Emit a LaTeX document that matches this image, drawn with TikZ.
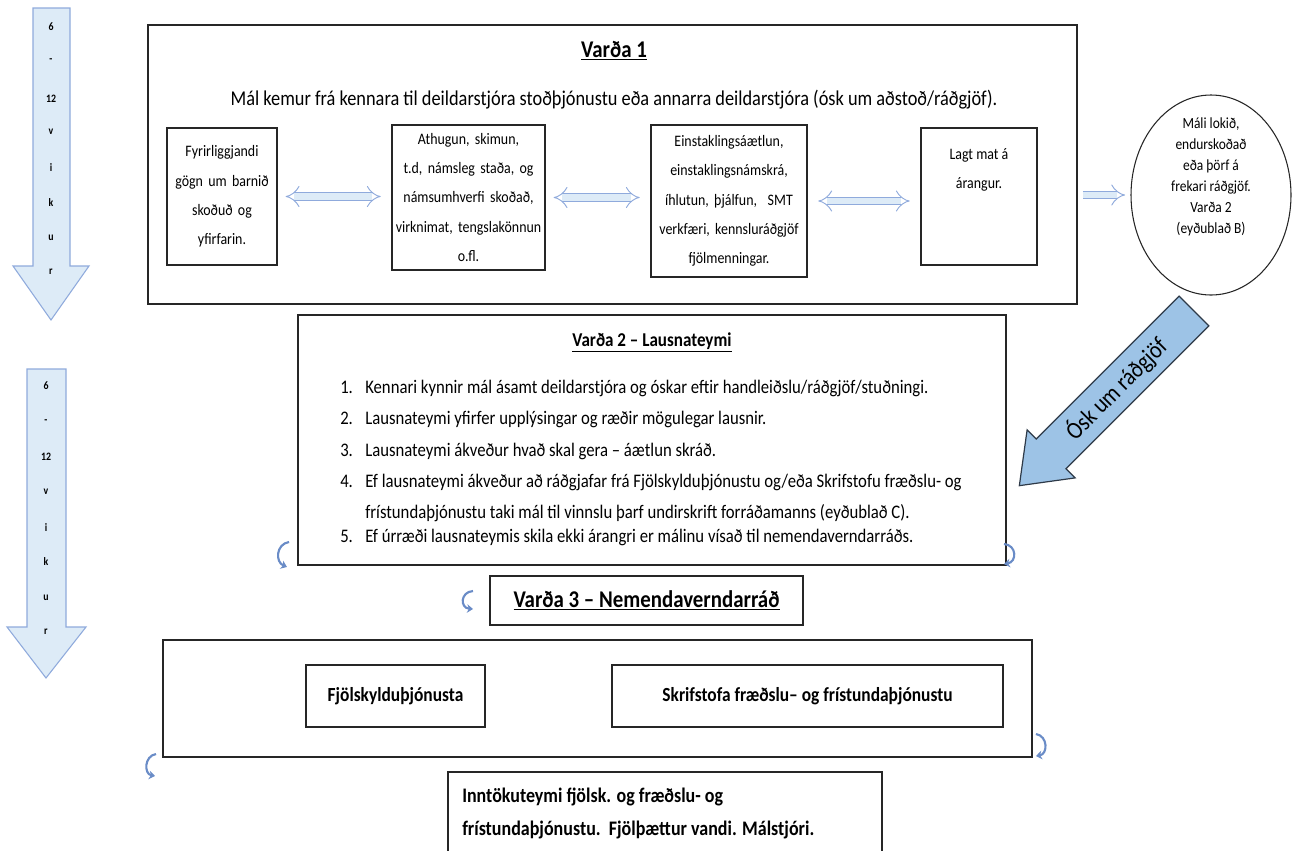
\documentclass[tikz,border=0pt]{standalone}
\usepackage{fontspec}
\setmainfont{Carlito}[FakeStretch=0.87]
\usetikzlibrary{shapes.geometric,arrows.meta,calc}
\definecolor{arrowfill}{HTML}{DDEBF7}
\definecolor{arrowline}{HTML}{8FAADC}
\definecolor{oskfill}{HTML}{9DC3E6}
\definecolor{oskline}{HTML}{2E3A48}
\definecolor{curlblue}{HTML}{6A8CC7}
\definecolor{boxline}{HTML}{262626}
\newcommand{\listno}[1]{\makebox[18.75pt][l]{#1}}

\begin{document}
\begin{tikzpicture}[x=0.75pt, y=-0.75pt,
    box/.style={draw=boxline, line width=0.9pt, inner sep=0pt},
    txt/.style={font=\fontsize{12}{22}\selectfont, align=center},
    head/.style={font=\fontsize{14.7}{17}\selectfont\bfseries},
    fat/.style={draw=arrowline, line width=0.7pt, double=arrowfill, double distance=5pt},
    curl/.style={draw=curlblue, line width=1.6pt, -{Stealth[length=4.5pt,width=6.5pt]}},
    weeks/.style={font=\fontsize{8.5}{9}\selectfont\bfseries}]
    % page
    \useasboundingbox (0,0) rectangle (1292,850);
    % week arrows on the left
    \draw[fill=arrowfill, draw=arrowline, line width=0.8pt]
    (33,8) -- (70,8) -- (70,266) -- (89,266) -- (51,320) -- (13,266) -- (33,266) -- cycle;
    \foreach \t/\y in {6/27,-/61,12/99,v/132,i/168,k/203,u/238,r/272}
    \node[weeks] (wa\y) at (51,\y) {\t};
    \draw[fill=arrowfill, draw=arrowline, line width=0.8pt]
    (27,369) -- (66,369) -- (66,627) -- (86,627) -- (46,678) -- (7,627) -- (27,627) -- cycle;
    \foreach \t/\y in {6/386,-/422,12/457,v/492,i/528,k/562,u/598,r/632}
    \node[weeks] (wb\y) at (46,\y) {\t};
    % Varda 1
    \node[box, minimum width=696.75pt, minimum height=209.25pt] (v1) at (612.5,164.5) {};
    \node[head, font=\fontsize{18}{20}\selectfont\bfseries] (v1title) at (614,51) {\underline{Varða 1}};
    \node[font=\fontsize{15.8}{18}\selectfont] (v1text) at (614,100)
    {Mál kemur frá kennara til deildarstjóra stoðþjónustu eða annarra deildarstjóra (ósk um aðstoð/ráðgjöf).};
    % inner boxes
    \node[box, txt, minimum width=82.5pt, minimum height=102.75pt, text width=80pt] (fyrir) at (222,196.5)
    {Fyrirliggjandi\\gögn um barnið\\skoðuð og\\yfirfarin.};
    \node[box, txt, minimum width=114.75pt, minimum height=108.75pt, text width=113pt] (athugun) at (468.5,197.5)
    {Athugun, skimun,\\t.d, námsleg staða, og\\námsumhverfi skoðað,\\virknimat, tengslakönnun\\o.fl.};
    \node[box, txt, minimum width=117pt, minimum height=114pt, text width=115pt] (einst) at (729,201)
    {Einstaklingsáætlun,\\einstaklingsnámskrá,\\íhlutun, þjálfun,\ \ SMT\\verkfæri, kennsluráðgjöf\\fjölmenningar.};
    \node[box, minimum width=87pt, minimum height=102.75pt] (mat) at (979,196.5) {};
    \node[txt] (mattext) at (979,170) {Lagt mat á\\árangur.};
    % double arrows between boxes
    \draw[fat, {Implies[scale=1.5]}-{Implies[scale=1.5]}, shorten <=6pt, shorten >=8pt] (fyrir.east) -- (fyrir.east -| athugun.west);
    \draw[fat, {Implies[scale=1.5]}-{Implies[scale=1.5]}, shorten <=6pt, shorten >=8pt] (athugun.east) -- (athugun.east -| einst.west);
    \draw[fat, {Implies[scale=1.5]}-{Implies[scale=1.5]}, shorten <=8pt, shorten >=8pt] (einst.east) -- (einst.east -| mat.west);
    % end of case
    \node[draw=boxline, line width=0.8pt, ellipse, minimum width=120pt, minimum height=150pt] (lokid) at (1211,195) {};
    \node[txt, font=\fontsize{11.6}{15.7}\selectfont] (lokidtext) at (1211,177)
    {Máli lokið,\\endurskoðað\\eða þörf á\\frekari ráðgjöf.\\Varða 2\\(eyðublað B)};
    \draw[fat, -{Implies[scale=1.5]}, shorten <=4pt, shorten >=4pt] (v1.east |- lokid.west) -- (lokid.west);
    % request arrow
    \begin{scope}[shift={(1194,311)}, rotate=225]
    \draw[fill=oskfill, draw=oskline, line width=0.9pt]
    (0,-21) -- (202,-21) -- (202,-34) -- (247,0) -- (202,34) -- (202,21) -- (0,21) -- cycle;
    \node[rotate=45, font=\fontsize{18.5}{20}\selectfont] (osk) at (110,0) {Ósk um ráðgjöf};
    \end{scope}
    % Varda 2
    \node[box, minimum width=531pt, minimum height=187.5pt] (v2) at (652,440) {};
    \node[head] (v2title) at (652,342) {\underline{Varða 2 – Lausnateymi}};
    \node[anchor=north west, align=left, inner sep=0pt, font=\fontsize{14.4}{23.4}\selectfont] (v2list) at (340,380)
    {\listno{1.}Kennari kynnir mál ásamt deildarstjóra og óskar eftir handleiðslu/ráðgjöf/stuðningi.\\
    \listno{2.}Lausnateymi yfirfer upplýsingar og ræðir mögulegar lausnir.\\
    \listno{3.}Lausnateymi ákveður hvað skal gera – áætlun skráð.\\
    \listno{4.}Ef lausnateymi ákveður að ráðgjafar frá Fjölskylduþjónustu og/eða Skrifstofu fræðslu- og\\
    \hspace*{18.75pt}frístundaþjónustu taki mál til vinnslu þarf undirskrift forráðamanns (eyðublað C).\\[-5pt]
    \listno{5.}Ef úrræði lausnateymis skila ekki árangri er málinu vísað til nemendaverndarráðs.};
    % Varda 3
    \node[box, head, font=\fontsize{18}{20}\selectfont\bfseries, minimum width=234.75pt, minimum height=36.75pt] (v3) at (646.5,600.5)
    {\underline{Varða 3 – Nemendaverndarráð}};
    % services
    \node[box, minimum width=651.75pt, minimum height=87.75pt] (thjon) at (597.5,698.5) {};
    \node[box, head, font=\fontsize{15}{17}\selectfont\bfseries, minimum width=134.25pt, minimum height=46.5pt] (fjol) at (395.5,696)
    {Fjölskylduþjónusta};
    \node[box, head, font=\fontsize{15}{17}\selectfont\bfseries, minimum width=293.25pt, minimum height=46.5pt] (skrif) at (807.5,696)
    {Skrifstofa fræðslu– og frístundaþjónustu};
    % intake team
    \node[box, minimum width=325.5pt, minimum height=73.5pt] (inn) at (665,821) {};
    \node[anchor=west, align=left, inner sep=0pt, font=\fontsize{15.5}{24.5}\selectfont\bfseries] (inntext) at (462,813.5)
    {Inntökuteymi fjölsk. og fræðslu- og\\frístundaþjónustu.\ \ Fjölþættur vandi. Málstjóri.};
    % small turn arrows
    \draw[curl] (289,542) .. controls (276,544) and (275,562) .. (287,567);
    \draw[curl] (1004,544) .. controls (1017,545) and (1017,562) .. (1004,564);
    \draw[curl] (473,591) .. controls (460,592) and (460,608) .. (473,609);
    \draw[curl] (156,754) .. controls (144,756) and (144,774) .. (155,776);
    \draw[curl] (1036,734) .. controls (1048,736) and (1048,754) .. (1036,756);
\end{tikzpicture}
\end{document}
